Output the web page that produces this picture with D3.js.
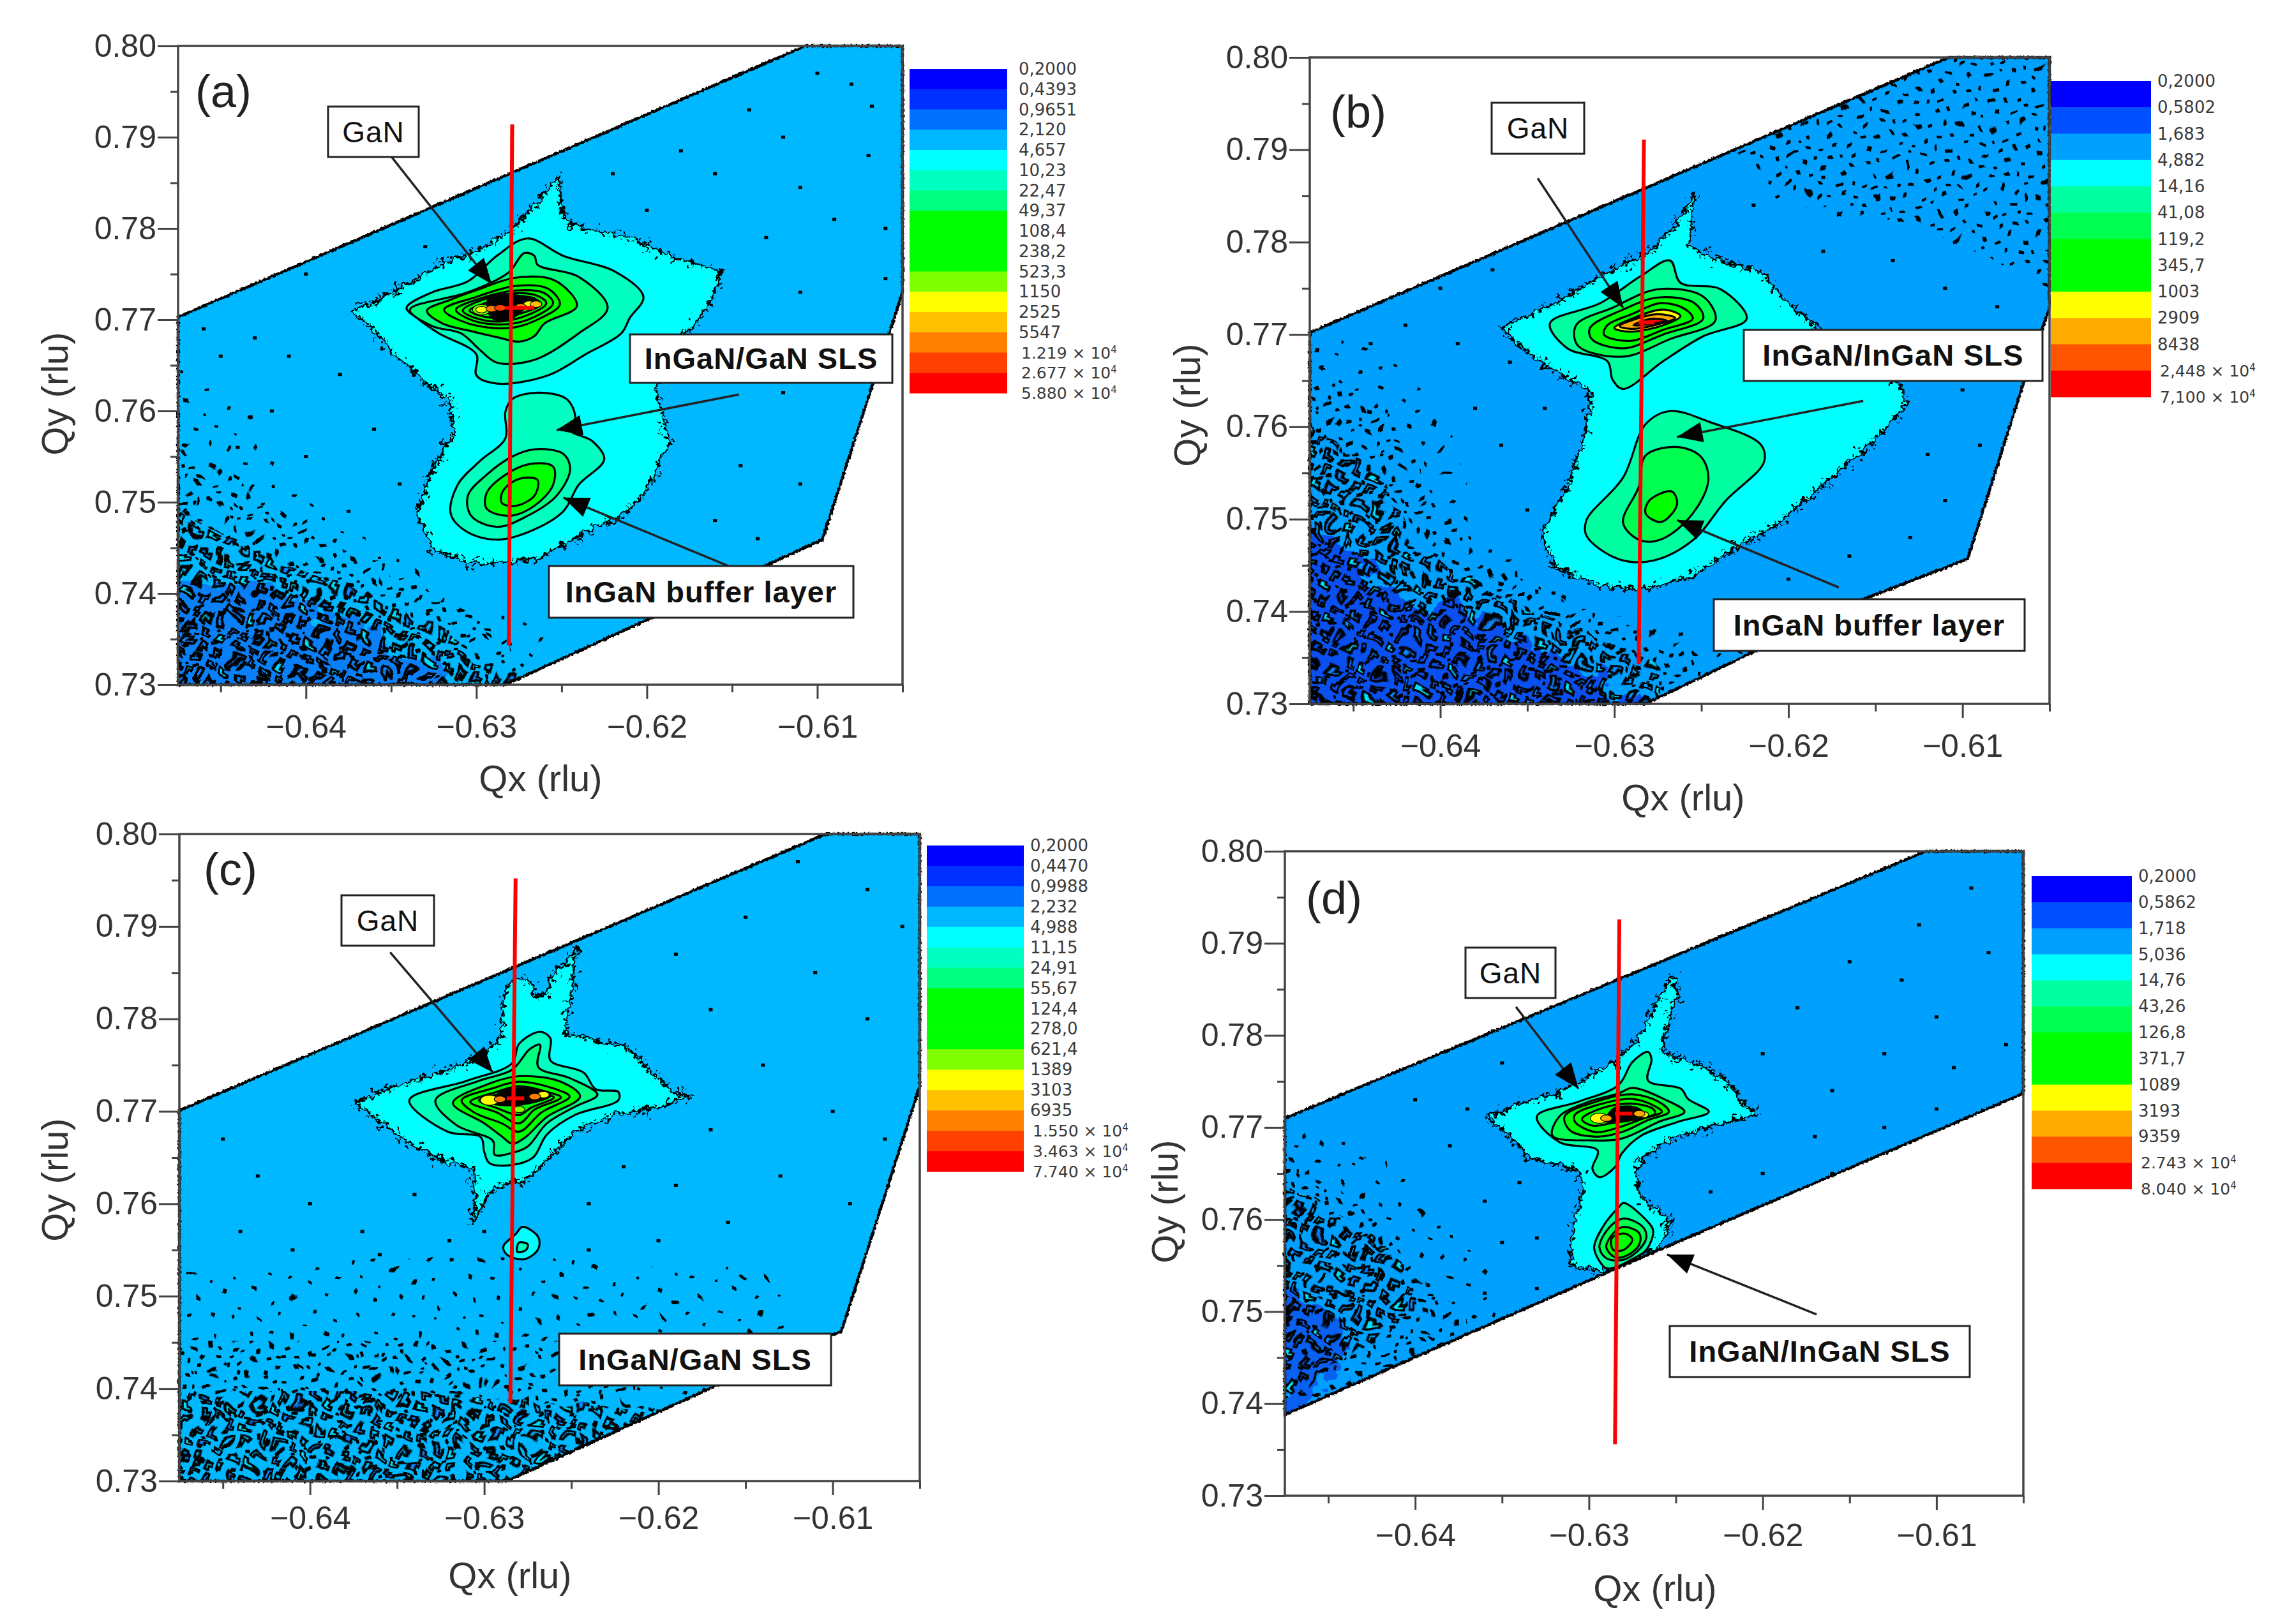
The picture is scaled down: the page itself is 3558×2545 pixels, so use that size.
<!DOCTYPE html>
<html lang="en">
<head>
<meta charset="UTF-8">
<title>Reciprocal space maps</title>
<script src="https://d3js.org/d3.v7.min.js"></script>
<style>
  html, body { margin: 0; background: #fff; }
  svg { display: block; }
  .tick-label { font-family: "Liberation Sans", Arial, sans-serif; fill: #333; }
  .legend-label { font-family: "DejaVu Sans", sans-serif; fill: #3a3a3a; }
</style>
</head>
<body>
<div id="chart"></div>
<script>
// axis values (rlu)
const qxDomain = [-0.6475, -0.605];
const qyDomain = [0.73, 0.80];
const qxTicks = [-0.64, -0.63, -0.62, -0.61];
const qxMinor = [-0.645, -0.635, -0.625, -0.615, -0.605];
const qyTicks = [0.73, 0.74, 0.75, 0.76, 0.77, 0.78, 0.79, 0.80];
const qyMinor = [0.735, 0.745, 0.755, 0.765, 0.775, 0.785, 0.795];

// colour bands and their labels
const bandsA = ["#0000ff", "#0030ff", "#0070ff", "#00b8ff", "#00ffff", "#00ffc0", "#00ff80", "#00ff00", "#00ff00", "#00ff00", "#80ff00", "#ffff00", "#ffc000", "#ff8000", "#ff4000", "#ff0000"];
const bandsB = ["#0000ff", "#0050ff", "#00a0ff", "#00ffff", "#00ffa0", "#00ff50", "#00ff00", "#00ff00", "#ffff00", "#ffaa00", "#ff5500", "#ff0000"];
const labelsA = ["0,2000", "0,4393", "0,9651", "2,120", "4,657", "10,23", "22,47", "49,37", "108,4", "238,2", "523,3", "1150", "2525", "5547", "1.219^4", "2.677^4", "5.880^4"];
const labelsB = ["0,2000", "0,5802", "1,683", "4,882", "14,16", "41,08", "119,2", "345,7", "1003", "2909", "8438", "2,448^4", "7,100^4"];
const labelsC = ["0,2000", "0,4470", "0,9988", "2,232", "4,988", "11,15", "24,91", "55,67", "124,4", "278,0", "621,4", "1389", "3103", "6935", "1.550^4", "3.463^4", "7.740^4"];
const labelsD = ["0,2000", "0,5862", "1,718", "5,036", "14,76", "43,26", "126,8", "371,7", "1089", "3193", "9359", "2.743^4", "8.040^4"];

// everything below in 10^-3 rlu: [Qx, Qy]
const outlineA = [[-647.5,770.3],[-610.7,800],[-605,800],[-605,773],[-609.7,745.9],[-613.1,743],[-628.3,730],[-647.5,730]];
const outlineB = [[-647.5,770.2],[-610.8,800],[-605,800],[-605,772.9],[-606.5,764.7],[-609.7,745.7],[-616,741.1],[-628.2,730],[-647.5,730]];
const outlineC = [[-647.5,770.1],[-610.4,800],[-605,800],[-605,772.7],[-609.5,746.2],[-613,743.5],[-628.7,730],[-647.5,730]];
const outlineD = [[-647.5,771],[-610.6,800],[-605,800],[-605,773.7],[-628.3,754.8],[-647.5,738.8]];

const contoursA = [
  [[-625.2,785.6],[-624.9,781],[-623.6,779.9],[-621,779],[-618.5,777],[-615.7,775.3],[-616.1,772.5],[-617.2,769.6],[-618,767.9],[-619.5,762.7],[-619.1,759.9],[-618.7,756.5],[-620.2,750.7],[-621.5,748.5],[-623.6,746.7],[-626.2,743.9],[-628.3,743.3],[-630.5,743.3],[-632.6,745],[-633.5,748.5],[-632.6,753.6],[-631.3,757.6],[-631.5,761],[-632.6,762.5],[-634.8,766.2],[-635.8,768.5],[-637.3,770.9],[-635.2,772.7],[-632.2,775.9],[-629.6,777.9],[-627.9,779.9],[-626.2,783.3]],
  [[-627,778.9],[-624.9,777],[-621.9,775.3],[-620.2,772.5],[-621,770.2],[-621.5,768.5],[-623.6,766.2],[-625.8,763.9],[-628.8,763],[-630,763.9],[-630,766.2],[-632.2,768.5],[-633.5,770.2],[-634.1,771.3],[-632.6,773],[-630.5,774.2],[-628.8,777]],
  [[-627.2,777.3],[-626.6,777],[-626.4,776],[-624,774.7],[-622.3,771.3],[-624,768.5],[-626.6,765.6],[-628.8,765.3],[-629.8,766.7],[-630.9,768.5],[-632.6,769.3],[-633.9,771.1],[-630.5,773],[-628.1,775.2]],
  [[-627.7,774.6],[-625.4,774.3],[-624.1,771.5],[-626,769.6],[-626.6,768.2],[-627.5,767.6],[-628.6,768],[-630.2,768.7],[-632,769.6],[-632.9,771],[-631.5,772.2],[-629.9,773.3]],
  [[-627.7,773.7],[-625.8,773.4],[-625.1,771.7],[-626.2,770.2],[-628,769.1],[-630.5,769.6],[-631.9,771.1],[-630,772.5]],
  [[-627.7,773.2],[-626,772.9],[-625.5,771.8],[-626.6,770.3],[-628.2,769.5],[-630.2,769.9],[-631.2,771.1],[-629.8,772.3]],
  [[-630.8,771],[-629.6,772.2],[-627.7,772.9],[-626.4,772.6],[-625.9,771.8],[-627,770.5],[-628.6,769.8],[-629.9,770.1]],
  [[-630.4,771],[-629.5,771.8],[-627.7,772.5],[-626.6,772.3],[-626.2,771.7],[-627.2,770.8],[-628.7,770.2],[-629.7,770.4]],
  [[-629,772.7],[-627.4,772.6],[-626.5,772.2],[-627.2,771.2],[-628,770.1],[-629,770.1],[-629.4,771.7]],
  [[-626.4,762],[-624.7,761.3],[-624.2,759.3],[-624.5,757.9],[-623.2,756.7],[-622.5,754.7],[-624,751.9],[-624.9,749],[-627,746.7],[-628.8,745.9],[-630.5,746.7],[-631.5,748.7],[-631.1,751.9],[-629.8,754.5],[-628.3,757],[-628.3,759.9],[-627.9,761.3]],
  [[-626.6,755.8],[-624.9,755.3],[-624.5,753.6],[-625.3,750.7],[-627,748.5],[-628.8,747.3],[-630.3,748.5],[-630.5,750.7],[-629.4,753],[-627.9,755]],
  [[-626.8,754.2],[-625.5,753.9],[-625.5,751.9],[-626.6,749.6],[-628.1,748.5],[-629.4,749.3],[-629.4,751],[-628.3,753]],
  [[-627,752.7],[-626.4,752.4],[-626.6,750.7],[-627.7,749.6],[-628.5,749.9],[-628.5,751],[-627.9,752.2]]
];
const levelsA = [4, 5, 6, 7, 8, 9, 8, 9, -1, 5, 6, 7, 8];
const spotsA = [[-629.7,771.1,10],[-629.7,771.1,11],[-629.1,771.2,13],[-628.6,771.3,14],[-626.9,771.7,11],[-626.5,771.7,12],[-627.4,771.4,13]];

const contoursB = [
  [[-625.4,785.3],[-625.7,779.7],[-624.5,778.3],[-621.6,776.8],[-620.3,773.9],[-618.7,771.2],[-616,767.6],[-613.7,764.7],[-613.1,762.7],[-614.7,759.3],[-617,755.4],[-619,752],[-620.9,749.1],[-623.2,746.7],[-625.5,743.8],[-628.2,742.4],[-630.8,742.8],[-633.4,744.8],[-634.2,748.6],[-632.7,753.5],[-631.8,758.3],[-631.3,763.7],[-633.4,766.1],[-635,768.1],[-636.5,770.7],[-633.4,773.4],[-630.8,776.3],[-627.8,779.2],[-626.2,782.6]],
  [[-626.8,778],[-626.2,775.6],[-623.9,774.9],[-622.4,771.7],[-624.9,769.8],[-627.2,767.1],[-629.5,764.1],[-630.1,765.1],[-630.4,767.1],[-632.7,768.5],[-633.7,771.2],[-630.8,773.4],[-628.5,776.3]],
  [[-627.5,774.9],[-624.9,774.1],[-624.2,771.5],[-626.8,769.5],[-629.5,767.6],[-632.1,768.8],[-632.2,771],[-630.1,772.9]],
  [[-627.5,774],[-625.4,773.4],[-624.9,771.7],[-627.2,770],[-629.5,768.5],[-631.3,769.5],[-631.4,770.7],[-629.5,772.7]],
  [[-627.3,773.4],[-625.9,772.7],[-625.5,771.7],[-627.2,770.5],[-629.1,769.3],[-630.6,770],[-630.4,771],[-629,772.2]],
  [[-627.2,772.7],[-626.2,772],[-627.2,771],[-629.1,770.3],[-630,770.7],[-629,771.7]],
  [[-627.5,772.2],[-626.5,771.8],[-627.5,771.1],[-629,770.6],[-629.7,770.9],[-628.9,771.6]],
  [[-627.9,771.7],[-627,771.5],[-628,771.1],[-628.9,771]],
  [[-626.8,761.7],[-624.5,760.5],[-621.6,758.1],[-621.4,756.2],[-623.6,752],[-625.5,747.7],[-627.8,745.5],[-629.8,745.7],[-631.6,748.2],[-631.6,749.9],[-629.5,754.5],[-628.2,760.3]],
  [[-626.3,757.8],[-625,756.7],[-624.6,754.2],[-625.5,750.6],[-627.2,747.9],[-628.5,747.7],[-629.5,749.6],[-628.6,753.5],[-628.2,756.9]],
  [[-626.7,753],[-626.4,751.6],[-627.3,749.7],[-628.2,750.6],[-628,752]]
];
const levelsB = [3, 4, 5, 6, 7, 8, 9, 11, 4, 5, 6];
const spotsB = [];

const contoursC = [
  [[-624.8,787.5],[-624.9,783.8],[-625.4,778.6],[-624.1,777.9],[-621.8,777],[-620.8,774.9],[-619.2,772.1],[-618.2,771.6],[-619.9,770.5],[-622.6,769.6],[-624.8,767.8],[-626.4,764.7],[-627.7,762.4],[-628.7,762.4],[-629.8,761],[-630.2,759.5],[-630.7,758.1],[-630.5,760.4],[-630.6,763.8],[-632.5,764.7],[-634.6,766.9],[-636.2,769.3],[-637.5,770.9],[-635.4,772.5],[-632.6,774.2],[-630.3,775.8],[-629,778.2],[-628.9,782.5],[-628.4,784.2],[-627.4,784.2],[-627.1,782.5],[-626.4,782.5],[-626.2,784.7],[-625.4,785.9]],
  [[-626.8,778.6],[-626.2,777.9],[-626.2,775.5],[-624.3,774.2],[-623.6,772.4],[-622.3,772.1],[-622.3,771.2],[-624.8,769.6],[-626.4,767.5],[-627.2,765],[-628.4,764.2],[-629.7,764.4],[-630,765.6],[-630.2,767.2],[-632.1,767.8],[-634.3,771.2],[-631,773.3],[-628.4,775.2],[-628,777.3]],
  [[-626.8,777.2],[-626.9,774.8],[-625.1,773.6],[-623.5,771.8],[-624.8,770.5],[-626.4,768.7],[-627.5,766.2],[-628.4,765.5],[-629.4,765.3],[-629.5,766.8],[-631.6,768.5],[-632.8,771.2],[-630.3,773.3],[-628.4,774.5],[-627.4,776.7]],
  [[-628,773.8],[-625.6,773.2],[-624.5,771.6],[-626.4,769.4],[-627.7,767.1],[-628.4,766.5],[-629,767.3],[-630,768.7],[-631.8,770.9],[-629.7,773]],
  [[-628,773.2],[-625.9,772.4],[-625.1,771.6],[-626.7,769.9],[-628,767.8],[-629,768.7],[-630.6,769.9],[-631.3,771.2],[-629.5,772.5]],
  [[-628,772.7],[-626.4,772.1],[-625.6,771.5],[-627.1,770.2],[-628,768.7],[-629.3,769.9],[-630.8,771],[-629.3,772.1]],
  [[-630.3,771.2],[-629,771.9],[-628,772.3],[-626.6,771.9],[-626,771.5],[-627.3,770.4],[-628,769.6],[-629.2,770.3]],
  [[-628.9,772.2],[-627.2,772.4],[-626.2,771.7],[-628,770.7],[-629.7,771]],
  [[-627.8,757.5],[-626.9,756.4],[-626.9,755.1],[-627.7,754],[-628.7,754.5],[-628.9,755.4],[-628.2,756.7]],
  [[-628,755.8],[-627.5,755.6],[-627.6,755],[-628.1,754.8]]
];
const levelsC = [4, 5, 6, 7, 8, 9, 8, -1, 4, 5];
const spotsC = [[-629.7,771.2,11],[-629.1,771.3,13],[-626.6,771.8,11],[-627.1,771.6,13],[-628,770.2,10]];

const contoursD = [
  [[-625.2,786.4],[-624.9,784.8],[-625.7,779.6],[-625.7,778],[-624,777.1],[-622.2,775.3],[-620.9,772.2],[-620.3,771.4],[-622.4,770.3],[-624.9,769.1],[-626.8,766.9],[-627.3,764.7],[-627,762.3],[-625.2,759.8],[-626,757],[-628.3,754.8],[-629.3,754.4],[-631.1,755.1],[-630.9,759.5],[-630.3,763.2],[-630.6,765.4],[-633.4,766.6],[-634.5,768.8],[-635.8,771.2],[-633.9,772.6],[-631.9,773.7],[-630.6,775],[-628.3,777.4],[-627,780.2],[-625.8,784.8]],
  [[-626.6,778.2],[-626.4,777.4],[-626.6,775.1],[-624.7,774.2],[-624.3,773.1],[-623.1,771.7],[-624.9,770.6],[-627,769.1],[-628.1,767.2],[-628.5,765.7],[-629.4,764.6],[-629.8,765.5],[-629.5,767.5],[-631.7,768.4],[-633,771.2],[-630.6,772.8],[-628.3,774.6],[-627.5,777.1]],
  [[-627.5,774.3],[-625.7,773.1],[-624.5,771.7],[-626,770.6],[-628.1,768.8],[-629.8,768.6],[-632.1,769.1],[-631.7,771.2],[-630,772.8],[-628.3,773.7]],
  [[-627.5,773.6],[-626,772.8],[-625.4,771.7],[-626.6,770.8],[-628.1,769.5],[-629.6,769],[-631.1,769.7],[-631.4,771.2],[-629.6,772.8]],
  [[-627.5,773.1],[-626.2,772.3],[-625.8,771.7],[-627,770.9],[-628.3,770],[-629.6,769.5],[-630.8,770.6],[-630.8,771.4],[-629.4,772.5]],
  [[-627.6,772.6],[-626.3,772],[-626.2,771.5],[-627.3,770.9],[-628.6,770.5],[-629.8,770.2],[-630.4,770.9],[-629.4,772]],
  [[-628.6,772],[-627.4,772.2],[-626.9,771.6],[-628,770.7],[-629,770.7]],
  [[-628,761.8],[-626.5,759.5],[-626.3,758.7],[-626.7,756.7],[-627.6,755.6],[-628.5,754.8],[-629,754.7],[-629.4,755.5],[-629.7,757],[-629.1,759.5],[-628.3,761.3]],
  [[-628,760.1],[-626.9,759.2],[-626.7,758],[-627.3,756.4],[-628.1,755.6],[-629,755.8],[-629.4,757],[-628.8,759.2]],
  [[-628,759.2],[-627.1,758.5],[-627.1,757.3],[-627.8,756.1],[-628.5,755.9],[-629,757],[-628.6,758.5]],
  [[-627.8,758.4],[-627.5,757.8],[-628,756.7],[-628.6,756.7],[-628.7,757.9],[-628.3,758.4]]
];
const levelsD = [3, 4, 5, 6, 7, 7, -1, 4, 5, 6, 7];
const spotsD = [[-629.4,771,8],[-629,771,9],[-626.9,771.4,8],[-627.1,771.5,9]];

// noise zones: [sparse, medium, dense, dark blue floor, extra sparse]
const noiseA = [
  [[-647.5,763.9],[-643.8,759.3],[-640.8,750.2],[-634.8,742.7],[-630.5,737.6],[-626.2,734.7],[-628.3,730],[-647.5,730]],
  [[-647.5,755],[-643.5,750],[-639.5,745],[-634,740],[-629,735],[-628.3,730],[-647.5,730]],
  [[-647.5,747.9],[-644.2,744.5],[-639.5,740.5],[-633.9,736.5],[-630,731.9],[-628.3,730],[-647.5,730]],
  [[-647.5,740.5],[-641.6,739.3],[-637.3,735.3],[-632.2,730.2],[-647.5,730]]
];
const noiseB = [
  [[-647.5,769],[-643.5,766.6],[-639.9,759.8],[-639.3,752.5],[-636.7,745.2],[-631.8,738.9],[-623.6,735.5],[-628.2,730],[-647.5,730]],
  [[-647.5,765],[-643.5,761],[-641.5,753],[-638.5,745],[-633,739.5],[-626,735],[-628.2,730],[-647.5,730]],
  [[-647.5,758.3],[-643.9,754],[-642.2,746.2],[-638.3,741.8],[-632.7,737],[-627.8,733.1],[-628.2,730],[-647.5,730]],
  [[-647.5,748.6],[-643.5,741.4],[-639.3,738.4],[-633.4,734.1],[-629.5,730],[-647.5,730]],
  [[-610.8,800],[-605,800],[-605,776.8],[-610.5,781.7],[-620.3,786],[-621.9,789.4]]
];
const noiseC = [
  [[-647.5,752],[-629,753],[-614,752],[-613,743.5],[-628.7,730],[-647.5,730]],
  [[-647.5,744],[-633,744],[-620,744],[-625,733],[-628.7,730],[-647.5,730]],
  [[-647.5,738],[-636,739],[-626,737],[-620,736.5],[-628.7,730],[-647.5,730]]
];
const noiseD = [
  [[-647.5,770],[-643,766],[-640,762],[-637,756],[-635,749],[-647.5,738.8]],
  [[-647.5,766],[-642.5,759],[-640,753],[-637.5,748],[-647.5,738.8]],
  [[-647.5,762],[-642.5,757],[-640.5,751],[-647.5,742]],
  [[-647.5,752],[-644,746],[-647.5,740]]
];

// isolated specks
const specksA = [[-610,797],[-608,795.8],[-606.8,793.4],[-607,788],[-614,793],[-612,790],[-618,788.5],[-616,786],[-611,784.5],[-609,781],[-606,780],[-606,774.5],[-622,786],[-620,782],[-613,779],[-611,773],[-609,767],[-612,762],[-614.5,754],[-611,752],[-616,748],[-613.5,746],[-636,781],[-633,778],[-640,775],[-643,768],[-645,766],[-646,769],[-641,766],[-638,764],[-642,760],[-636,758],[-634.5,752],[-637.5,749],[-644,756],[-640,755]];
const specksB = [[-637,777],[-640,775],[-642,771],[-644,769],[-639,769],[-636,767],[-634,762],[-636.5,758],[-638,762],[-635,751],[-633.5,742],[-622,784],[-618,787],[-615,785],[-618,779],[-614,778],[-611,775],[-608,773],[-613,769],[-610,764],[-609,758],[-611,752],[-613,748],[-616.5,746],[-620,743.5],[-622.5,741],[-609,749],[-612,757],[-616,762]];
const specksC = [[-612,797],[-608,794],[-606,790],[-615,791],[-619,787],[-611,785],[-608,780],[-617,781],[-614,775],[-610,770],[-607,767],[-617,768],[-613,763],[-609,760],[-619,762],[-616,758],[-622,764],[-624,760],[-634,761],[-637,757],[-640,760],[-643,763],[-645,767],[-641,755],[-636,754.5],[-632,756],[-630,757],[-644,757],[-624,755],[-620,756]];
const specksD = [[-608,796],[-611,792],[-615,788],[-612,786],[-607,789],[-610,782],[-606,779],[-609,776.5],[-613,778],[-618,783],[-620,778],[-616,774],[-613,770],[-610,772],[-608,770],[-617,769],[-620,765],[-623,763],[-616,765],[-622,758.5],[-635,777],[-637,772],[-640,773],[-634,764],[-636,762],[-633,758],[-635,757.5],[-638,768],[-633,752.5],[-636,752]];

// red vertical section and the short horizontal bar at the GaN peak: [x1, y1, x2, y2]
const sectionA = [[-627.9,791.4,-628.1,734.3],[-628.3,771.3,-626.6,771.3]];
const sectionB = [[-628.3,791.1,-628.6,734.3],[-628.6,771.3,-627.7,771.3]];
const sectionC = [[-628.2,795.2,-628.5,738.4],[-628.7,771.4,-627.7,771.4]];
const sectionD = [[-628.25,792.6,-628.5,735.6],[-628.5,771.5,-627.5,771.5]];

// arrows: [from Qx, from Qy, tip Qx, tip Qy]
const arrowsA = [[-635,787.9,-629.1,773.9],[-614.6,761.8,-625.3,757.9],[-615.2,743,-624.9,750.5]];
const arrowsB = [[-634.4,786.9,-629.5,772.9],[-615.7,762.8,-626.4,758.9],[-617.1,742.6,-626.4,749.9]];
const arrowsC = [[-635.4,787.2,-629.5,774.2]];
const arrowsD = [[-634.2,783.1,-630.6,774.2],[-616.9,749.7,-625.5,756.2]];

// speckle tiles, just texture: x, y, w, h
const tileSparse = [[8,12,6,5],[40,5,5,5],[75,20,7,5],[25,40,5,6],[58,48,8,5],[92,55,5,5],[12,72,6,6],[47,80,5,4],[80,85,7,5]];
const tileMedium = [[5,8,8,5],[26,3,5,7],[47,12,10,5],[70,6,6,6],[14,24,5,5],[36,28,9,6],[60,26,5,8],[80,33,7,5],[4,44,10,6],[24,50,6,5],[46,46,6,7],[66,54,9,5],[12,66,6,6],[34,70,9,5],[56,68,5,5],[78,72,7,6]];
// squiggly closed level lines for the densest noise
const tileDense = ["M4 6h9v5h6v6h-9v-5h-6z", "M28 3h7v9h5v5h-8v-7h-4z", "M48 7h12v5h-7v6h-5z", "M70 4h8v10h-8z", "M90 8h10v5h-5v8h-5z", "M6 28h6v8h8v5h-14z", "M30 26h14v5h-9v7h-5z", "M54 24h6v12h7v5h-13z", "M78 28h9v6h6v6h-15z", "M12 52h12v5h-7v9h-5z", "M36 48h7v7h8v5h-15z", "M62 52h11v8h-6v6h-5z", "M86 50h12v6h-6v7h-6z", "M3 74h8v6h7v6h-15z", "M28 72h14v5h-6v8h-8z", "M54 76h6v-5h8v12h-14z", "M80 76h10v5h8v6h-18z"];
const tileDenseFill = ["#0a84ff", "none", "#00e0ff", "none", "#0a84ff", "none", "none", "#0a84ff", "#00e0ff", "none", "#0a84ff", "none", "none", "#00e0ff", "#0a84ff", "none", "none"];

const svg = d3.select("#chart").append("svg").attr("width", 3558).attr("height", 2545);
svg.append("rect").attr("width", 3558).attr("height", 2545).attr("fill", "#fff");

const defs = svg.append("defs");
function addFilter(id, freq, octaves, scale) {
  const f = defs.append("filter").attr("id", id)
    .attr("x", "-8%").attr("y", "-8%").attr("width", "116%").attr("height", "116%")
    .attr("color-interpolation-filters", "sRGB");
  f.append("feTurbulence").attr("type", "fractalNoise").attr("baseFrequency", freq)
    .attr("numOctaves", octaves).attr("seed", 7).attr("result", "n");
  f.append("feDisplacementMap").attr("in", "SourceGraphic").attr("in2", "n").attr("scale", scale)
    .attr("xChannelSelector", "R").attr("yChannelSelector", "G");
}
addFilter("rough", 0.1, 3, 18);
addFilter("fringe", 0.07, 3, 42);
addFilter("edge", 0.25, 3, 5);
addFilter("scatter", 0.03, 1, 34);
addFilter("floorEdge", 0.02, 3, 110);

function addTile(id, w, h, marks, rot) {
  const p = defs.append("pattern").attr("id", id).attr("patternUnits", "userSpaceOnUse")
    .attr("width", w).attr("height", h).attr("patternTransform", `rotate(${rot})`);
  p.selectAll("rect").data(marks).join("rect")
    .attr("x", d => d[0]).attr("y", d => d[1]).attr("width", d => d[2]).attr("height", d => d[3])
    .attr("rx", 1).attr("fill", "#000");
}
addTile("tile0", 101, 93, tileSparse, 17);
addTile("tile1", 88, 80, tileMedium, -11);
const denseTile = defs.append("pattern").attr("id", "tile2").attr("patternUnits", "userSpaceOnUse")
  .attr("width", 104).attr("height", 94).attr("patternTransform", "rotate(23)");
denseTile.selectAll("path").data(tileDense).join("path")
  .attr("d", d => d).attr("fill", (d, i) => tileDenseFill[i])
  .attr("stroke", "#000").attr("stroke-width", 3.6);

function drawPanel(p) {
  const x = d3.scaleLinear().domain(qxDomain).range([p.left, p.right]);
  const y = d3.scaleLinear().domain(qyDomain).range([p.bottom, p.top]);
  const mx = v => x(v / 1000);
  const my = v => y(v / 1000);
  const g = svg.append("g");

  const poly = d3.line().x(d => mx(d[0])).y(d => my(d[1])).curve(d3.curveLinearClosed);
  const smooth = d3.line().x(d => mx(d[0])).y(d => my(d[1])).curve(d3.curveCatmullRomClosed);

  defs.append("clipPath").attr("id", "clip" + p.id).append("path").attr("d", poly(p.outline));
  g.append("path").attr("d", poly(p.outline)).attr("fill", p.bands[p.bgLevel]);

  const map = g.append("g").attr("clip-path", `url(#clip${p.id})`);
  // noise, stroked with its own paint so the displaced edge still covers the frame
  const zonePath = (zone, paint, filter) => map.append("path").attr("d", poly(zone))
    .attr("fill", paint).attr("stroke", paint).attr("stroke-width", 40).attr("filter", `url(#${filter})`);
  // floor first so the speckle of the wider zones runs over its edge
  if (p.noise[3]) {
    zonePath(p.noise[3], p.floor, "floorEdge");
    zonePath(p.noise[3], `url(#tile${p.floorTile})`, "scatter");
  }
  p.noise.forEach((zone, i) => {
    if (i === 4) zonePath(zone, "url(#tile1)", "scatter");
    else if (i < 3) zonePath(zone, `url(#tile${i})`, "scatter");
  });
  map.selectAll(".speck").data(p.specks).join("rect").attr("class", "speck")
    .attr("x", d => mx(d[0]) - 3).attr("y", d => my(d[1]) - 2.5)
    .attr("width", 6).attr("height", 5).attr("fill", "#000");

  // contours, first one is the rough low level edge
  map.append("path").attr("d", poly(p.contours[0]))
    .attr("fill", p.bands[p.levels[0]]).attr("stroke", "#000").attr("stroke-width", 3)
    .attr("filter", "url(#rough)");
  map.append("path").attr("d", poly(p.contours[0]))
    .attr("fill", "none").attr("stroke", "#000").attr("stroke-width", 6)
    .attr("stroke-dasharray", "5 9 3 14 7 11").attr("filter", "url(#fringe)");
  p.contours.slice(1).forEach((c, i) => {
    const lev = p.levels[i + 1];
    map.append("path").attr("d", smooth(c))
      .attr("fill", lev < 0 ? "#000" : p.bands[lev])
      .attr("stroke", "#000").attr("stroke-width", 3.2);
  });
  map.selectAll(".spot").data(p.spots).join("ellipse").attr("class", "spot")
    .attr("cx", d => mx(d[0])).attr("cy", d => my(d[1]))
    .attr("rx", (d, i) => i === 0 ? 14 : 9).attr("ry", (d, i) => i === 0 ? 8 : 5)
    .attr("fill", d => p.bands[d[2]]).attr("stroke", "#000").attr("stroke-width", 1.2);

  // scan edge
  g.append("path").attr("d", poly(p.outline)).attr("fill", "none")
    .attr("stroke", "#000").attr("stroke-width", 4.5).attr("filter", "url(#edge)");
  g.append("rect").attr("x", p.left).attr("y", p.top)
    .attr("width", p.right - p.left).attr("height", p.bottom - p.top)
    .attr("fill", "none").attr("stroke", "#444").attr("stroke-width", 3.5);

  // axes
  const styleAxis = sel => {
    sel.select(".domain").remove();
    sel.selectAll("line").attr("stroke", "#444").attr("stroke-width", 3);
  };
  g.append("g").attr("transform", `translate(0,${p.bottom})`)
    .call(d3.axisBottom(x).tickValues(qxMinor).tickSize(12).tickFormat("")).call(styleAxis);
  g.append("g").attr("transform", `translate(${p.left},0)`)
    .call(d3.axisLeft(y).tickValues(qyMinor).tickSize(12).tickFormat("")).call(styleAxis);
  g.append("g").attr("transform", `translate(0,${p.bottom})`)
    .call(d3.axisBottom(x).tickValues(qxTicks).tickSize(22).tickPadding(p.xPad)
      .tickFormat(d => "\u2212" + d3.format(".2f")(-d)))
    .call(styleAxis)
    .selectAll("text").attr("class", "tick-label").style("font-size", "50px");
  g.append("g").attr("transform", `translate(${p.left},0)`)
    .call(d3.axisLeft(y).tickValues(qyTicks).tickSize(32).tickPadding(2).tickFormat(d3.format(".2f")))
    .call(styleAxis)
    .selectAll("text").attr("class", "tick-label").style("font-size", "50px");

  g.append("text").attr("class", "tick-label").attr("x", p.xTitle[0]).attr("y", p.xTitle[1])
    .attr("text-anchor", "middle").style("font-size", "58px").text("Qx (rlu)");
  g.append("text").attr("class", "tick-label")
    .attr("transform", `translate(${p.yTitle[0]},${p.yTitle[1]}) rotate(-90)`)
    .attr("text-anchor", "middle").style("font-size", "58px").text("Qy (rlu)");
  g.append("text").attr("class", "tick-label").attr("x", p.tag[0]).attr("y", p.tag[1])
    .attr("text-anchor", "middle").style("font-size", "72px").style("fill", "#222").text(p.tagText);

  // red section
  g.selectAll(".section").data(p.section).join("line").attr("class", "section")
    .attr("x1", d => mx(d[0])).attr("y1", d => my(d[1]))
    .attr("x2", d => mx(d[2])).attr("y2", d => my(d[3]))
    .attr("stroke", "#ff0000").attr("stroke-width", 6);

  // arrows
  p.arrows.forEach(a => {
    const x0 = mx(a[0]), y0 = my(a[1]), x1 = mx(a[2]), y1 = my(a[3]);
    const ang = Math.atan2(y1 - y0, x1 - x0);
    g.append("line").attr("x1", x0).attr("y1", y0).attr("x2", x1).attr("y2", y1)
      .attr("stroke", "#222").attr("stroke-width", 3.5);
    g.append("path").attr("d", "M0,0L-40,-16L-40,16Z").attr("fill", "#000")
      .attr("transform", `translate(${x1},${y1}) rotate(${ang * 180 / Math.PI})`);
  });

  // label boxes
  p.boxes.forEach(b => {
    g.append("rect").attr("x", b.x0).attr("y", b.y0)
      .attr("width", b.x1 - b.x0).attr("height", b.y1 - b.y0)
      .attr("fill", "#fff").attr("stroke", "#222").attr("stroke-width", 3);
    g.append("text").attr("class", "tick-label")
      .attr("x", (b.x0 + b.x1) / 2).attr("y", (b.y0 + b.y1) / 2 + 16)
      .attr("text-anchor", "middle")
      .style("font-size", b.bold ? "47px" : "46px")
      .style("font-weight", b.bold ? 700 : 400)
      .style("fill", "#111")
      .style("letter-spacing", "1px")
      .text(b.text);
  });

  // colour legend
  const ly = d3.scaleLinear().domain([0, p.bands.length]).range([p.legend.top, p.legend.bottom]);
  g.selectAll(".band").data(p.bands).join("rect").attr("class", "band")
    .attr("x", p.legend.left).attr("y", (d, i) => ly(i))
    .attr("width", p.legend.right - p.legend.left)
    .attr("height", (d, i) => ly(i + 1) - ly(i) + 0.5)
    .attr("fill", d => d);
  const lab = g.selectAll(".legend-label").data(p.labels).join("text").attr("class", "legend-label")
    .attr("y", (d, i) => ly(i) + 9)
    .attr("x", d => p.legend.right + p.legend.gap + (d.includes("^") ? 4 : 0))
    .style("font-size", d => d.includes("^") ? "25px" : "26px");
  lab.each(function (d) {
    const t = d3.select(this);
    if (d.includes("^")) {
      const parts = d.split("^");
      t.append("tspan").text(parts[0] + " \u00d7 10");
      t.append("tspan").attr("dy", -9).style("font-size", "15px").text(parts[1]);
    } else {
      t.text(d);
    }
  });
}

const panels = [
  { id: "a", tagText: "(a)", left: 279, right: 1414, top: 72, bottom: 1073, xPad: 25,
    outline: outlineA, contours: contoursA, levels: levelsA, spots: spotsA, noise: noiseA, specks: specksA,
    section: sectionA, arrows: arrowsA, bands: bandsA, bgLevel: 3, floor: "#0a80f8", floorTile: 2, labels: labelsA,
    legend: { left: 1425, right: 1578, top: 108, bottom: 616, gap: 18 },
    xTitle: [847, 1240], yTitle: [106, 617], tag: [350, 168],
    boxes: [
      { x0: 514, y0: 167, x1: 656, y1: 246, text: "GaN" },
      { x0: 987, y0: 524, x1: 1398, y1: 600, text: "InGaN/GaN SLS", bold: true },
      { x0: 860, y0: 887, x1: 1337, y1: 968, text: "InGaN buffer layer", bold: true }
    ] },
  { id: "b", tagText: "(b)", left: 2052, right: 3211, top: 90, bottom: 1103, xPad: 25,
    outline: outlineB, contours: contoursB, levels: levelsB, spots: spotsB, noise: noiseB, specks: specksB,
    section: sectionB, arrows: arrowsB, bands: bandsB, bgLevel: 2, floor: "#0a50f0", floorTile: 0, labels: labelsB,
    legend: { left: 3213, right: 3370, top: 127, bottom: 622, gap: 10 },
    xTitle: [2637, 1270], yTitle: [1880, 635], tag: [2128, 200],
    boxes: [
      { x0: 2337, y0: 161, x1: 2482, y1: 241, text: "GaN" },
      { x0: 2732, y0: 517, x1: 3200, y1: 597, text: "InGaN/InGaN SLS", bold: true },
      { x0: 2685, y0: 939, x1: 3172, y1: 1020, text: "InGaN buffer layer", bold: true }
    ] },
  { id: "c", tagText: "(c)", left: 281, right: 1441, top: 1307, bottom: 2321, xPad: 17,
    outline: outlineC, contours: contoursC, levels: levelsC, spots: spotsC, noise: noiseC, specks: specksC,
    section: sectionC, arrows: arrowsC, bands: bandsA, bgLevel: 3, floor: "#0a80f8", floorTile: 2, labels: labelsC,
    legend: { left: 1452, right: 1604, top: 1325, bottom: 1836, gap: 10 },
    xTitle: [799, 2489], yTitle: [106, 1849], tag: [361, 1387],
    boxes: [
      { x0: 535, y0: 1403, x1: 680, y1: 1482, text: "GaN" },
      { x0: 876, y0: 2090, x1: 1302, y1: 2171, text: "InGaN/GaN SLS", bold: true }
    ] },
  { id: "d", tagText: "(d)", left: 2013, right: 3170, top: 1334, bottom: 2344, xPad: 21,
    outline: outlineD, contours: contoursD, levels: levelsD, spots: spotsD, noise: noiseD, specks: specksD,
    section: sectionD, arrows: arrowsD, bands: bandsB, bgLevel: 2, floor: "#0a60f0", floorTile: 0, labels: labelsD,
    legend: { left: 3183, right: 3340, top: 1373, bottom: 1863, gap: 10 },
    xTitle: [2593, 2509], yTitle: [1845, 1883], tag: [2090, 1432],
    boxes: [
      { x0: 2296, y0: 1485, x1: 2437, y1: 1564, text: "GaN" },
      { x0: 2616, y0: 2078, x1: 3086, y1: 2158, text: "InGaN/InGaN SLS", bold: true }
    ] }
];

panels.forEach(drawPanel);
</script>
</body>
</html>
